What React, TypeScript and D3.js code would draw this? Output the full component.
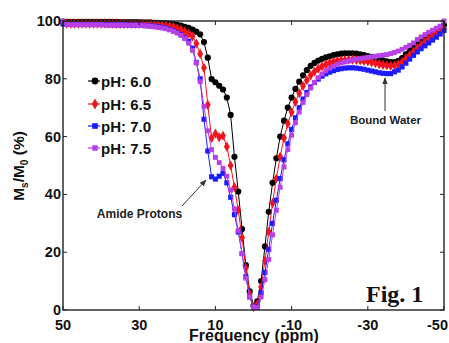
import * as d3 from "d3";

// frequency offsets, 50 ppm down to -50 ppm
const freq = [
  50, 49, 48, 47, 46, 45, 44, 43, 42, 41, 40, 39, 38, 37, 36, 35, 34, 33, 32, 31,
  30, 29, 28, 27, 26, 25, 24, 23, 22, 21, 20, 19, 18, 17, 16, 15, 14, 13, 12, 11,
  10, 9, 8, 7, 6, 5, 4, 3, 2, 1, 0, -1, -2, -3, -4, -5, -6, -7, -8, -9,
  -10, -11, -12, -13, -14, -15, -16, -17, -18, -19, -20, -21, -22, -23, -24, -25, -26, -27, -28, -29,
  -30, -31, -32, -33, -34, -35, -36, -37, -38, -39, -40, -41, -42, -43, -44, -45, -46, -47, -48, -49,
  -50,
];

const ph60 = [
  99.8, 99.7, 99.7, 99.7, 99.7, 99.7, 99.7, 99.7, 99.7, 99.7, 99.7, 99.7, 99.7, 99.7, 99.7, 99.6, 99.6, 99.6, 99.6, 99.6,
  99.6, 99.5, 99.5, 99.5, 99.4, 99.4, 99.3, 99.2, 99.1, 98.9, 98.7, 98.4, 98.0, 97.6, 97.0, 96.3, 95.4, 92.7, 87.3, 79.9,
  78.8, 77.6, 76.3, 73.5, 67.5, 53, 41, 28, 15.5, 6.5, 1.5, 3, 10, 22, 34, 44, 52.5, 60, 65.5, 70,
  73.5, 76.5, 79, 81.2, 83, 84.5, 85.5, 86.3, 86.9, 87.4, 87.8, 88.2, 88.5, 88.7, 88.8, 88.8, 88.8, 88.7, 88.5, 88.2,
  87.9, 87.6, 87.2, 86.8, 86.4, 86.0, 85.8, 85.8, 86.2, 87.2, 88.5, 89.8, 91.0, 92.2, 93.2, 94.2, 95.1, 96.0, 96.9, 97.7,
  98.6,
];

const ph65 = [
  99.3, 99.1, 99.1, 99.1, 99.1, 99.1, 99.1, 99.1, 99.1, 99.1, 99.1, 99.1, 99.1, 99.1, 99.0, 99.0, 99.0, 99.0, 99.0, 99.0,
  99.0, 99.0, 98.9, 98.9, 98.8, 98.7, 98.6, 98.4, 98.2, 97.9, 97.5, 97.0, 96.3, 95.6, 94.7, 92.2, 88.6, 83.8, 71, 59.5,
  61, 59.8, 60.3, 56.5, 50, 42.5, 34.5, 25, 14.5, 5.5, 1, 2, 8, 17, 27, 37, 45.5, 53, 59.5, 64.5,
  68.5, 72, 75, 77.5, 79.5, 81.2, 82.5, 83.5, 84.3, 85, 85.5, 85.9, 86.2, 86.4, 86.5, 86.6, 86.6, 86.5, 86.4, 86.2,
  86.0, 85.7, 85.4, 85.1, 84.8, 84.6, 84.5, 84.6, 85.0, 85.8, 87.0, 88.2, 89.4, 90.6, 91.7, 92.7, 93.7, 94.6, 95.5, 96.4,
  97.3,
];

const ph70 = [
  99.0, 98.8, 98.8, 98.8, 98.8, 98.8, 98.8, 98.8, 98.8, 98.8, 98.8, 98.8, 98.7, 98.7, 98.7, 98.7, 98.7, 98.7, 98.6, 98.6,
  98.6, 98.5, 98.4, 98.3, 98.2, 98.0, 97.8, 97.5, 97.1, 96.6, 96.0, 95.2, 94.2, 93.0, 90.6, 85.7, 80, 66, 55, 46.1,
  45.3, 46.3, 47.3, 44, 39, 33, 27, 19.5, 11.5, 4.5, 1, 1, 6, 13, 21, 30, 38, 45.5, 52, 57.5,
  62.5, 66.5, 70, 73, 75.3, 77.2, 78.7, 79.9, 80.9, 81.7, 82.3, 82.8, 83.2, 83.5, 83.7, 83.8, 83.8, 83.7, 83.5, 83.3,
  83.0, 82.7, 82.4, 82.1, 81.9, 81.8, 81.8, 82.4, 83.0, 84.1, 85.4, 86.8, 88.1, 89.3, 90.4, 91.4, 92.4, 93.4, 94.4, 95.5,
  96.7,
];

const ph75 = [
  100, 98.8, 98.7, 98.7, 98.7, 98.7, 98.7, 98.7, 98.7, 98.7, 98.7, 98.6, 98.6, 98.6, 98.6, 98.6, 98.6, 98.5, 98.5, 98.5,
  98.5, 98.4, 98.3, 98.2, 98.0, 97.8, 97.6, 97.3, 96.9, 96.4, 95.8, 95.0, 93.9, 92.3, 89.8, 85.5, 79, 70.5, 62, 55.5,
  52.8, 51, 49, 46.3, 41.5, 35, 27.5, 19.5, 11, 4.5, 1, 0.8, 4.5, 10.5, 17.5, 26, 34.5, 42.5, 49.5, 55.5,
  60.5, 64.8, 68.5, 71.8, 74.5, 76.8, 78.8, 80.4, 81.7, 82.8, 83.7, 84.4, 85.0, 85.5, 85.9, 86.2, 86.5, 86.8, 87.0, 87.2,
  87.4, 87.6, 87.8, 88.0, 88.2, 88.4, 88.7, 89.1, 89.6, 90.2, 90.9, 91.6, 92.4, 93.6, 94.5, 95.3, 96.1, 96.8, 97.5, 98.2,
  100,
];

const seriesNames = ["pH: 6.0", "pH: 6.5", "pH: 7.0", "pH: 7.5"];
const seriesValues = [ph60, ph65, ph70, ph75];
const seriesColors = ["#000000", "#f0141e", "#1c1cff", "#b840e8"];
const seriesShapes = [d3.symbolCircle, d3.symbolDiamond, d3.symbolSquare, d3.symbolSquare];
const seriesSizes = [30, 30, 26, 24];

const xTicks = [50, 30, 10, -10, -30, -50];
const yTicks = [0, 20, 40, 60, 80, 100];

const W = 449;
const H = 343;
const m = { left: 63, right: 444, top: 21, bottom: 310 };
const sans = "'Liberation Sans', Arial, Helvetica, sans-serif";

export default function App() {
  const x = d3.scaleLinear().domain([50, -50]).range([m.left, m.right]);
  const y = d3.scaleLinear().domain([0, 100]).range([m.bottom, m.top]);

  const line = d3
    .line<number>()
    .x((_, i) => x(freq[i]))
    .y((v) => y(v));

  const legendY = [81, 104, 126, 148];

  return (
    <svg
      width={W}
      height={H}
      style={{ position: "absolute", left: 0, top: 0, background: "#fff" }}
      fontFamily={sans}
      fontWeight="bold"
    >
      <defs>
        <marker id="arr" viewBox="0 0 10 10" refX="9" refY="5" markerWidth="7" markerHeight="7" orient="auto">
          <path d="M0,1 L10,5 L0,9 z" fill="#333" />
        </marker>
      </defs>

      {/* series */}
      {seriesValues.map((vals, s) => (
        <g key={s}>
          <path d={line(vals) ?? ""} fill="none" stroke={seriesColors[s]} strokeWidth={1} />
          {vals.map((v, i) => (
            <path
              key={i}
              transform={`translate(${x(freq[i])},${y(v)})`}
              d={d3.symbol(seriesShapes[s], seriesSizes[s])() ?? ""}
              fill={seriesColors[s]}
            />
          ))}
        </g>
      ))}

      {/* frame */}
      <rect
        x={m.left}
        y={m.top}
        width={m.right - m.left}
        height={m.bottom - m.top}
        fill="none"
        stroke="#222"
        strokeWidth={1.4}
      />

      {/* ticks */}
      {xTicks.map((t, i) => (
        <g key={"x" + t}>
          <line x1={x(t)} x2={x(t)} y1={m.bottom} y2={m.bottom - 4} stroke="#222" />
          <line x1={x(t)} x2={x(t)} y1={m.top} y2={m.top + 4} stroke="#222" />
          <text
            x={i === xTicks.length - 1 ? W - 1 : x(t)}
            y={330}
            textAnchor={i === xTicks.length - 1 ? "end" : "middle"}
            fontSize={14.5}
            fill="#111"
          >
            {t}
          </text>
        </g>
      ))}
      {yTicks.map((t) => (
        <g key={"y" + t}>
          <line x1={m.left} x2={m.left + 4} y1={y(t)} y2={y(t)} stroke="#222" />
          <line x1={m.right} x2={m.right - 4} y1={y(t)} y2={y(t)} stroke="#222" />
          <text x={61} y={y(t) + 5} textAnchor="end" fontSize={14.5} fill="#111">
            {t}
          </text>
        </g>
      ))}

      {/* axis titles */}
      <text x={254} y={341} textAnchor="middle" fontSize={16} fill="#111">
        Frequency (ppm)
      </text>
      <text transform="translate(24,166) rotate(-90)" textAnchor="middle" fontSize={15.5} fill="#111">
        M
        <tspan fontSize={10} dy={4}>
          s
        </tspan>
        <tspan dy={-4}>/M</tspan>
        <tspan fontSize={10} dy={4}>
          0
        </tspan>
        <tspan dy={-4}> (%)</tspan>
      </text>

      {/* legend */}
      {seriesNames.map((n, s) => (
        <g key={n}>
          <line x1={88} x2={100} y1={legendY[s]} y2={legendY[s]} stroke={seriesColors[s]} strokeWidth={1.2} />
          <path
            transform={`translate(95,${legendY[s]})`}
            d={d3.symbol(seriesShapes[s], seriesSizes[s] + 6)() ?? ""}
            fill={seriesColors[s]}
          />
          <text x={101} y={legendY[s] + 5.5} fontSize={15} fill="#111">
            {n}
          </text>
        </g>
      ))}

      {/* annotations */}
      <line x1={385} y1={111} x2={385} y2={78} stroke="#333" strokeWidth={1} markerEnd="url(#arr)" />
      <text x={385.5} y={124} textAnchor="middle" fontSize={11.5} fill="#222">
        Bound Water
      </text>
      <line x1={182} y1={206} x2={206} y2={180} stroke="#333" strokeWidth={1} markerEnd="url(#arr)" />
      <text x={139.5} y={218} textAnchor="middle" fontSize={12} fill="#222">
        Amide Protons
      </text>

      <text
        x={366}
        y={302}
        fontFamily="'Liberation Serif', 'Times New Roman', serif"
        fontSize={24}
        fontWeight="bold"
        fill="#111"
      >
        Fig. 1
      </text>
    </svg>
  );
}
